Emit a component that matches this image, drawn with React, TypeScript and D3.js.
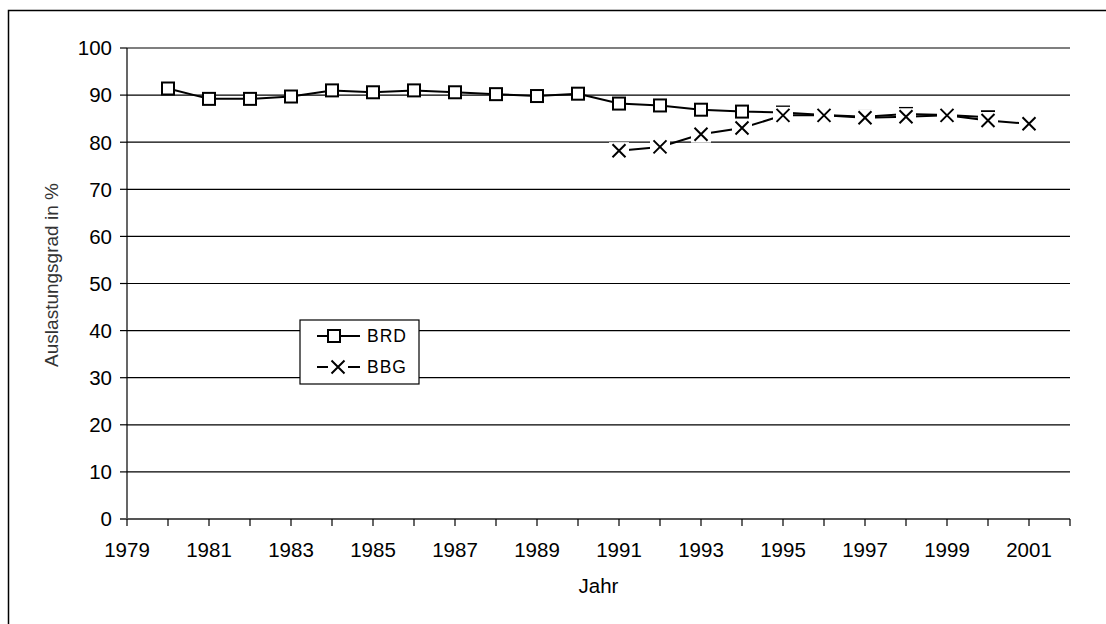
import React from "react";
import * as d3 from "d3";

const brdYears = [1980,1981,1982,1983,1984,1985,1986,1987,1988,1989,1990,1991,1992,1993,1994,1995,1996,1997,1998,1999,2000];
const brdValues = [91.4,89.2,89.2,89.7,91.0,90.6,91.0,90.6,90.2,89.8,90.3,88.2,87.8,86.9,86.5,86.3,85.8,85.4,86.0,85.8,85.3];
const bbgYears = [1991,1992,1993,1994,1995,1996,1997,1998,1999,2000,2001];
const bbgValues = [78.2,79.0,81.7,83.0,85.7,85.7,85.2,85.4,85.7,84.6,83.9];
const yTicks = [0,10,20,30,40,50,60,70,80,90,100];
const xTickLabels = [1979,1981,1983,1985,1987,1989,1991,1993,1995,1997,1999,2001];
const legendLabels = ["BRD","BBG"];

export default function App() {
  const W = 1106, H = 624;
  const left = 127, right = 1070, top = 48, bottom = 519;
  const x = d3.scaleLinear().domain([1979, 2002]).range([left, right]);
  const y = d3.scaleLinear().domain([0, 100]).range([bottom, top]);
  const allYears = d3.range(1979, 2003);
  const line = d3.line<[number, number]>().x(d => x(d[0])).y(d => y(d[1]));
  const brd: [number, number][] = brdYears.map((yr, i) => [yr, brdValues[i]]);
  const bbg: [number, number][] = bbgYears.map((yr, i) => [yr, bbgValues[i]]);
  const font = "Arial, 'Liberation Sans', sans-serif";
  const sq = 6;
  const xs = 6.5;
  const Xmark = (cx: number, cy: number, key: string) => (
    <g key={key}>
      <rect x={cx - 10} y={cy - 8.5} width={20} height={17} fill="#fff" />
      <path d={`M${cx - xs},${cy - xs}L${cx + xs},${cy + xs}M${cx + xs},${cy - xs}L${cx - xs},${cy + xs}`} stroke="#000" strokeWidth={2} fill="none" />
    </g>
  );
  const lgX = 300, lgY = 320;
  return (
    <div style={{ position: "absolute", left: 0, top: 0 }}>
      <svg width={W} height={H} style={{ display: "block" }}>
        <rect x={0} y={0} width={W} height={H} fill="#fff" />
        <rect x={8.5} y={10.5} width={W + 10} height={H + 10} fill="none" stroke="#000" strokeWidth={1.5} />
        {yTicks.map(t => (
          <g key={t}>
            {t > 0 && <line x1={left} x2={right} y1={y(t)} y2={y(t)} stroke="#000" strokeWidth={1.2} />}
            <line x1={left - 7} x2={left} y1={y(t)} y2={y(t)} stroke="#000" strokeWidth={1.2} />
            <text x={left - 15} y={y(t)} dy="0.36em" textAnchor="end" fontFamily={font} fontSize={20.5} fill="#000">{t}</text>
          </g>
        ))}
        <line x1={left} x2={left} y1={top} y2={bottom} stroke="#000" strokeWidth={1.2} />
        <line x1={left - 7} x2={right} y1={bottom} y2={bottom} stroke="#555" strokeWidth={2} />
        {allYears.map(yr => (
          <line key={yr} x1={x(yr)} x2={x(yr)} y1={bottom} y2={bottom + 7} stroke="#000" strokeWidth={1.2} />
        ))}
        {xTickLabels.map(yr => (
          <text key={yr} x={x(yr)} y={557} textAnchor="middle" fontFamily={font} fontSize={20.5} fill="#000">{yr}</text>
        ))}
        <text x={(left + right) / 2} y={593} textAnchor="middle" fontFamily={font} fontSize={20.5} fill="#000">Jahr</text>
        <text transform={`translate(58,275) rotate(-90)`} textAnchor="middle" fontFamily={font} fontSize={19} fill="#333">Auslastungsgrad in %</text>

        <path d={line(brd) || ""} fill="none" stroke="#000" strokeWidth={2} />
        {brd.map(d => (
          <rect key={"b" + d[0]} x={x(d[0]) - sq} y={y(d[1]) - sq} width={sq * 2} height={sq * 2} fill="#fff" stroke="#000" strokeWidth={2} />
        ))}
        <path d={line(bbg) || ""} fill="none" stroke="#000" strokeWidth={2} />
        {bbg.map(d => Xmark(x(d[0]), y(d[1]), "g" + d[0]))}

        <rect x={lgX} y={lgY} width={119} height={64} fill="#fff" stroke="#000" strokeWidth={1.2} />
        <line x1={lgX + 17} x2={lgX + 60} y1={lgY + 16} y2={lgY + 16} stroke="#000" strokeWidth={2} />
        <rect x={lgX + 34 - sq} y={lgY + 16 - sq} width={sq * 2} height={sq * 2} fill="#fff" stroke="#000" strokeWidth={2} />
        <text x={lgX + 67} y={lgY + 16} dy="0.36em" fontFamily={font} fontSize={17.5} letterSpacing={1} fill="#000">{legendLabels[0]}</text>
        <line x1={lgX + 17} x2={lgX + 60} y1={lgY + 47} y2={lgY + 47} stroke="#000" strokeWidth={2} />
        {Xmark(lgX + 38, lgY + 47, "lg")}
        <text x={lgX + 67} y={lgY + 47} dy="0.36em" fontFamily={font} fontSize={17.5} letterSpacing={1} fill="#000">{legendLabels[1]}</text>
      </svg>
    </div>
  );
}
